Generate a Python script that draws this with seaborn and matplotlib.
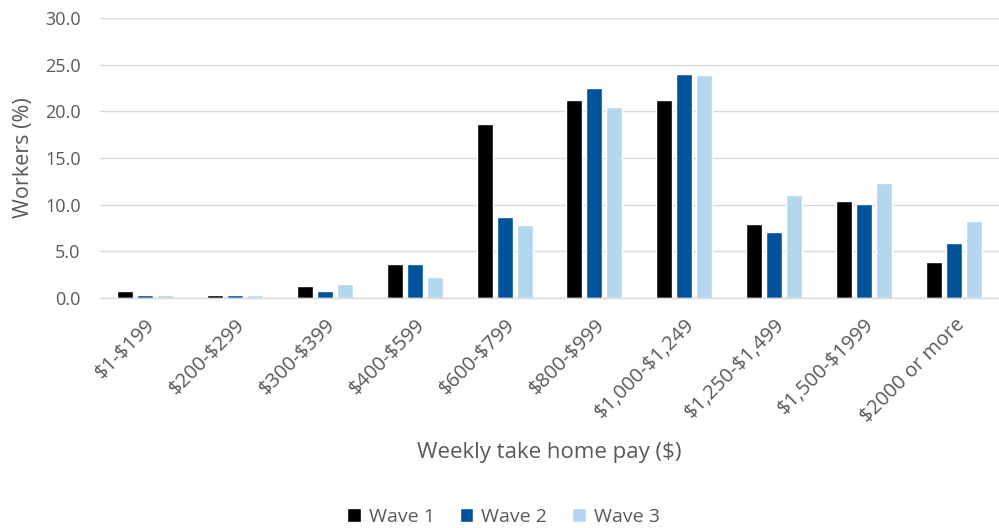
import matplotlib
matplotlib.use("Agg")
import matplotlib.pyplot as plt
import seaborn as sns
import pandas as pd

categories = ["$1-$199", "$200-$299", "$300-$399", "$400-$599", "$600-$799",
              "$800-$999", "$1,000-$1,249", "$1,250-$1,499", "$1,500-$1999",
              "$2000 or more"]
wave1 = [0.75, 0.35, 1.3, 3.6, 18.6, 21.2, 21.2, 7.9, 10.4, 3.9]
wave2 = [0.3, 0.3, 0.8, 3.6, 8.7, 22.5, 24.0, 7.1, 10.1, 5.9]
wave3 = [0.35, 0.35, 1.45, 2.3, 7.8, 20.5, 23.9, 11.0, 12.3, 8.3]
series_names = ["Wave 1", "Wave 2", "Wave 3"]
yticks = [0, 5, 10, 15, 20, 25, 30]

df = pd.DataFrame({
    "pay": categories * 3,
    "value": wave1 + wave2 + wave3,
    "wave": [series_names[0]] * 10 + [series_names[1]] * 10 + [series_names[2]] * 10,
})

sns.set_theme(style="white")
plt.rcParams["font.family"] = ["Open Sans", "DejaVu Sans"]
plt.rcParams["text.parse_math"] = False
text_color = "#595959"
palette = {"Wave 1": "#000000", "Wave 2": "#00529B", "Wave 3": "#B4D7F0"}

fig = plt.figure(figsize=(9.99, 5.28), dpi=100)
ax = fig.add_axes([100 / 999, 230 / 528, 899 / 999, 280 / 528])

sns.barplot(data=df, x="pay", y="value", hue="wave", order=categories,
            hue_order=series_names, palette=palette, width=0.667, gap=0.2,
            saturation=1, ax=ax, legend=True)

ax.set_ylim(0, 30)
ax.set_xlim(-0.5, 9.5)
ax.set_yticks(yticks)
ax.set_yticklabels([f"{v:.1f}" for v in yticks], color=text_color, fontsize=13)
ax.yaxis.grid(True, color="#D9D9D9", linewidth=1)
ax.set_axisbelow(True)
ax.set_xticks(range(len(categories)))
ax.set_xticklabels(categories, rotation=45, ha="right", rotation_mode="anchor",
                   color=text_color, fontsize=14.5)
ax.tick_params(axis="y", length=0, pad=14)
ax.tick_params(axis="x", length=0, pad=12)
for side in ["top", "right", "left"]:
    ax.spines[side].set_visible(False)
ax.spines["bottom"].set_color("#D9D9D9")
ax.spines["bottom"].set_linewidth(1)

ax.set_ylabel("Workers (%)", color=text_color, fontsize=15.5, labelpad=8)
ax.set_xlabel("Weekly take home pay ($)", color=text_color, fontsize=16)
ax.xaxis.set_label_coords(0.5, -0.515)

handles, labels = ax.get_legend_handles_labels()
ax.legend_.remove()
fig.legend(handles, labels, loc="center", bbox_to_anchor=(0.504, 1 - 517 / 528),
           ncol=3, frameon=False, fontsize=14, handlelength=0.7,
           handleheight=0.7, handletextpad=0.4, columnspacing=1.3,
           labelcolor=text_color)

fig.savefig("out.png", dpi=100)
